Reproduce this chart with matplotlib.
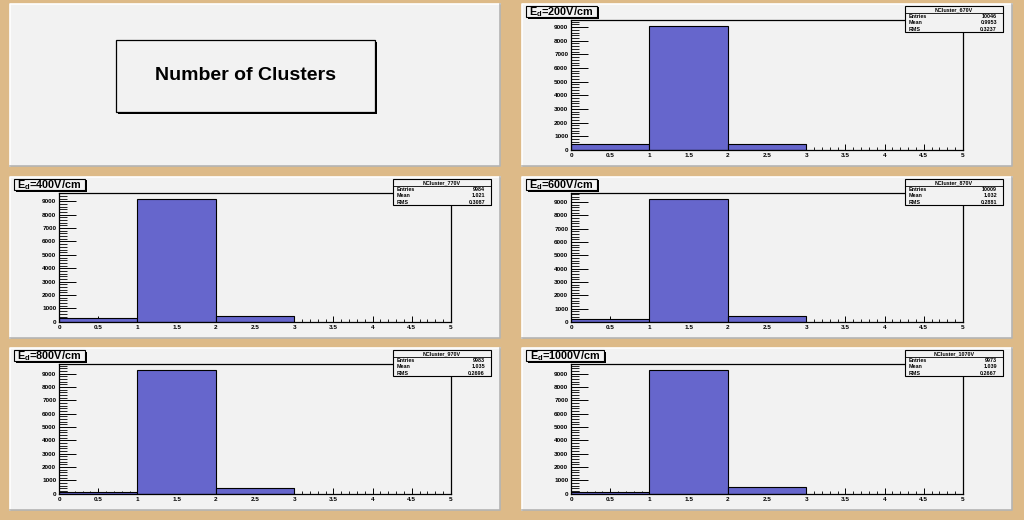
import matplotlib
matplotlib.use("Agg")
import matplotlib.pyplot as plt
from matplotlib.patches import Rectangle
from matplotlib.lines import Line2D
from matplotlib.ticker import MultipleLocator
import numpy as np

# ---------------- data ----------------
bin_edges = [0, 1, 2, 3]
labels = ["200V/cm", "400V/cm", "600V/cm", "800V/cm", "1000V/cm"]
hist_names = ["NCluster_670V", "NCluster_770V", "NCluster_870V", "NCluster_970V", "NCluster_1070V"]
counts_200 = [450, 9050, 400]
counts_400 = [280, 9150, 450]
counts_600 = [200, 9200, 450]
counts_800 = [150, 9250, 450]
counts_1000 = [100, 9250, 500]
entries = ["10046", "9984", "10009", "9983", "9973"]
means = ["0.9953", "1.021", "1.032", "1.035", "1.039"]
rms = ["0.3237", "0.3087", "0.2881", "0.2696", "0.2667"]
main_title = "Number of Clusters"
all_counts = [counts_200, counts_400, counts_600, counts_800, counts_1000]

# ---------------- style ----------------
W, H = 1024, 520
BG = "#DDBA88"
PAD = "#F2F2F2"
FILL = "#6666CC"
plt.rcParams["font.family"] = ["Liberation Sans", "DejaVu Sans"]
plt.rcParams["mathtext.fontset"] = "custom"
plt.rcParams["mathtext.rm"] = "Liberation Sans:bold"
plt.rcParams["mathtext.bf"] = "Liberation Sans:bold"
plt.rcParams["mathtext.it"] = "Liberation Sans:bold"

fig = plt.figure(figsize=(W / 100, H / 100), dpi=100)
fig.patch.set_facecolor(BG)


def fx(x):
    return x / W


def fy(y):
    return 1 - y / H


def frect(x, y, w, h, **kw):
    r = Rectangle((fx(x), fy(y + h)), w / W, h / H, transform=fig.transFigure, **kw)
    fig.add_artist(r)
    return r


def fline(xs, ys, **kw):
    l = Line2D([fx(v) for v in xs], [fy(v) for v in ys], transform=fig.transFigure, **kw)
    fig.add_artist(l)


def draw_pad(x, y, w, h):
    frect(x, y, w, h, facecolor=PAD, edgecolor="none", zorder=0)
    # bevel
    fline([x, x, x + w], [y + h, y, y], color="white", lw=1.2, zorder=0.5)
    fline([x, x + w, x + w], [y + h, y + h, y], color="#B4B4B4", lw=1.2, zorder=0.5)


pads = [(10, 4, 490, 162), (522, 4, 490, 162), (10, 177, 490, 161),
        (522, 177, 490, 161), (10, 348, 490, 162), (522, 348, 490, 162)]
for p in pads:
    draw_pad(*p)

# ---- title pad ----
frect(118, 42, 259, 72, facecolor="black", edgecolor="none", zorder=1)
frect(116, 40, 259, 72, facecolor=PAD, edgecolor="black", lw=0.9, zorder=2)
fig.text(fx(245.5), fy(76), main_title, ha="center", va="center",
         fontsize=14, fontweight="bold", zorder=3)

# ---- histogram pads ----
for i, (cnt, lab) in enumerate(zip(all_counts, labels)):
    px, py, pw, ph = pads[i + 1]
    ax_l = px + 0.1 * pw
    ax_r = px + pw - 0.1 * pw
    ax_t = py + 0.1 * ph
    ax_b = py + ph - 0.1 * ph
    ax = fig.add_axes([fx(ax_l), fy(ax_b), (ax_r - ax_l) / W, (ax_b - ax_t) / H])
    ax.set_facecolor(PAD)
    ax.bar(bin_edges[:-1], cnt, width=np.diff(bin_edges), align="edge",
           color=FILL, edgecolor="black", linewidth=0.8, zorder=2)
    ax.set_xlim(0, 5)
    ax.set_ylim(0, 1.05 * max(cnt))
    ax.xaxis.set_major_locator(MultipleLocator(0.5))
    ax.xaxis.set_minor_locator(MultipleLocator(0.1))
    ax.yaxis.set_major_locator(MultipleLocator(1000))
    ax.yaxis.set_minor_locator(MultipleLocator(200))
    ax.tick_params(axis="x", which="major", direction="in", length=4, width=0.7, labelsize=4.6, pad=2)
    ax.tick_params(axis="x", which="minor", direction="in", length=2, width=0.6)
    ax.tick_params(axis="y", which="major", direction="in", length=12, width=0.7, labelsize=4.6, pad=2)
    ax.tick_params(axis="y", which="minor", direction="in", length=6, width=0.6)
    ax.xaxis.set_major_formatter(matplotlib.ticker.FuncFormatter(lambda v, p: f"{v:g}"))
    ax.yaxis.set_major_formatter(matplotlib.ticker.FuncFormatter(lambda v, p: f"{int(v)}"))
    for lbl in ax.get_xticklabels() + ax.get_yticklabels():
        lbl.set_fontweight("bold")
    for s in ax.spines.values():
        s.set_linewidth(0.9)
        s.set_zorder(3)

    # title box (E_d = ...)
    tb_x, tb_y = px + 4, py + 2
    tw = 71 if len(lab) < 8 else 78
    frect(tb_x + 1.5, tb_y + 1.5, tw, 11, facecolor="black", edgecolor="none", zorder=5)
    frect(tb_x, tb_y, tw, 11, facecolor=PAD, edgecolor="black", lw=0.8, zorder=6)
    fig.text(fx(tb_x + tw / 2), fy(tb_y + 6), r"$\mathbf{E_{d}}$=" + lab,
             ha="center", va="center", fontsize=7.8, fontweight="bold", zorder=7)

    # stats box
    sx = px + pw - 107
    sy = py + 2
    sw, sh = 98, 26
    frect(sx + 1.2, sy + 1.2, sw, sh, facecolor="black", edgecolor="none", zorder=5)
    frect(sx, sy, sw, sh, facecolor=PAD, edgecolor="black", lw=0.8, zorder=6)
    fline([sx, sx + sw], [sy + 7, sy + 7], color="black", lw=0.6, zorder=7)
    fig.text(fx(sx + sw / 2), fy(sy + 3.6), hist_names[i], ha="center", va="center",
             fontsize=3.9, fontweight="bold", zorder=8)
    rows = [("Entries", entries[i]), ("Mean", means[i]), ("RMS", rms[i])]
    for k, (nm, val) in enumerate(rows):
        yy = sy + 10.5 + k * 6.3
        fig.text(fx(sx + 4), fy(yy), nm, ha="left", va="center", fontsize=3.9,
                 fontweight="bold", zorder=8)
        fig.text(fx(sx + sw - 6), fy(yy), val, ha="right", va="center", fontsize=3.9,
                 fontweight="bold", zorder=8)

fig.savefig("out.png", dpi=100, facecolor=BG)
